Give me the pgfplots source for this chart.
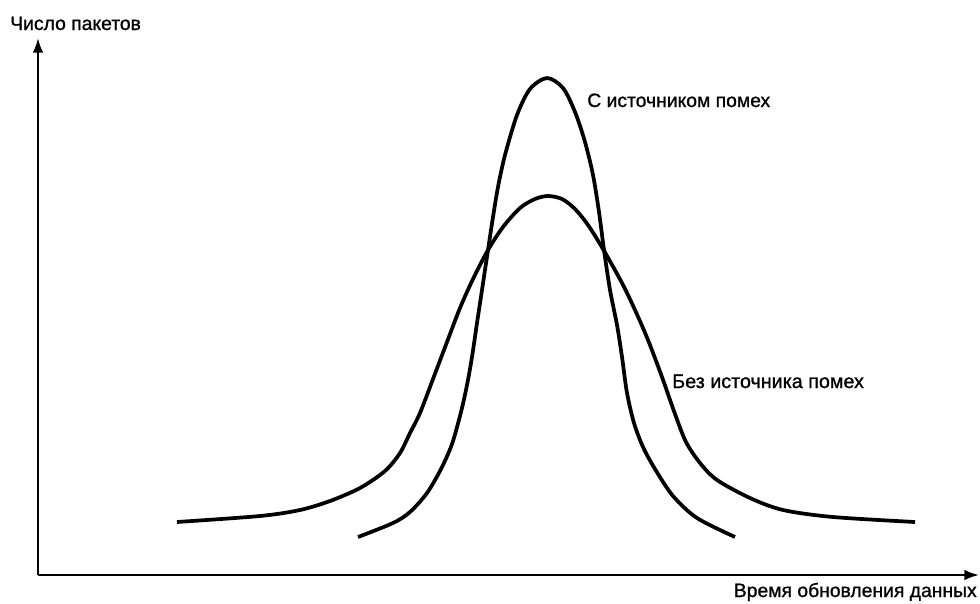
\documentclass[border=0pt]{standalone}
\usepackage{pgfplots}
\pgfplotsset{compat=1.18}
\usetikzlibrary{arrows.meta}
\usepackage{fontspec}
\setmainfont[FakeBold=1]{Liberation Sans}
\begin{document}
\begin{tikzpicture}
\begin{axis}[
  name=ax,
  scale only axis,
  width=735pt, height=452.25pt,
  xmin=0, xmax=980, ymin=0, ymax=603,
  y dir=reverse,
  axis lines=none,
  clip=false,
]
% axes
\draw[line width=1.6pt, -{Latex[length=11pt,width=8pt]}] (axis cs:38,575) -- (axis cs:979,575);
\draw[line width=1.6pt, -{Latex[length=11pt,width=8pt]}] (axis cs:38,575) -- (axis cs:38,38);
% Без источника помех (wide)
\addplot[black, line width=2.8pt, smooth, tension=0.5] coordinates {
(177,522) (260,516) (300,510) (330,501) (360,488) (385,471) (400,453) (410,433)
(420,413) (433,379) (447,342) (460,308) (473,279) (488,250) (503,227) (520,208)
(535,199) (548,196) (562,199) (575,209) (588,225) (603,249) (622,283) (635,310)
(648,340) (662,377) (675,414) (686,442) (700,463) (717,480) (750,498) (783,510)
(833,517) (915,522)
};
% С источником помех (narrow)
\addplot[black, line width=2.8pt, smooth, tension=0.5] coordinates {
(358,537) (393,523) (410,512) (427,493) (441,469) (452,444) (461,412) (467,385)
(472,357) (477,323) (482,290) (488,250) (493,217) (498,187) (505,155) (517,115)
(530,89) (547,78) (563,88) (575,112) (585,142) (593,175) (599,212) (604,250)
(610,290) (617,325) (622,357) (627,393) (634,423) (643,447) (655,469) (673,496)
(697,518) (735,537)
};
\node[anchor=base west, font=\fontsize{14.5}{16}\selectfont, inner sep=0pt] at (axis cs:10,30) {Число пакетов};
\node[anchor=base east, font=\fontsize{14.5}{16}\selectfont, inner sep=0pt] at (axis cs:977,597) {Время обновления данных};
\node[anchor=base west, font=\fontsize{14.5}{16}\selectfont, inner sep=0pt] at (axis cs:587,107) {С источником помех};
\node[anchor=base west, font=\fontsize{14.8}{16}\selectfont, inner sep=0pt] at (axis cs:672,388) {Без источника помех};
\end{axis}
\pgfresetboundingbox
\path (ax.south west) rectangle (ax.north east);
\end{tikzpicture}
\end{document}
